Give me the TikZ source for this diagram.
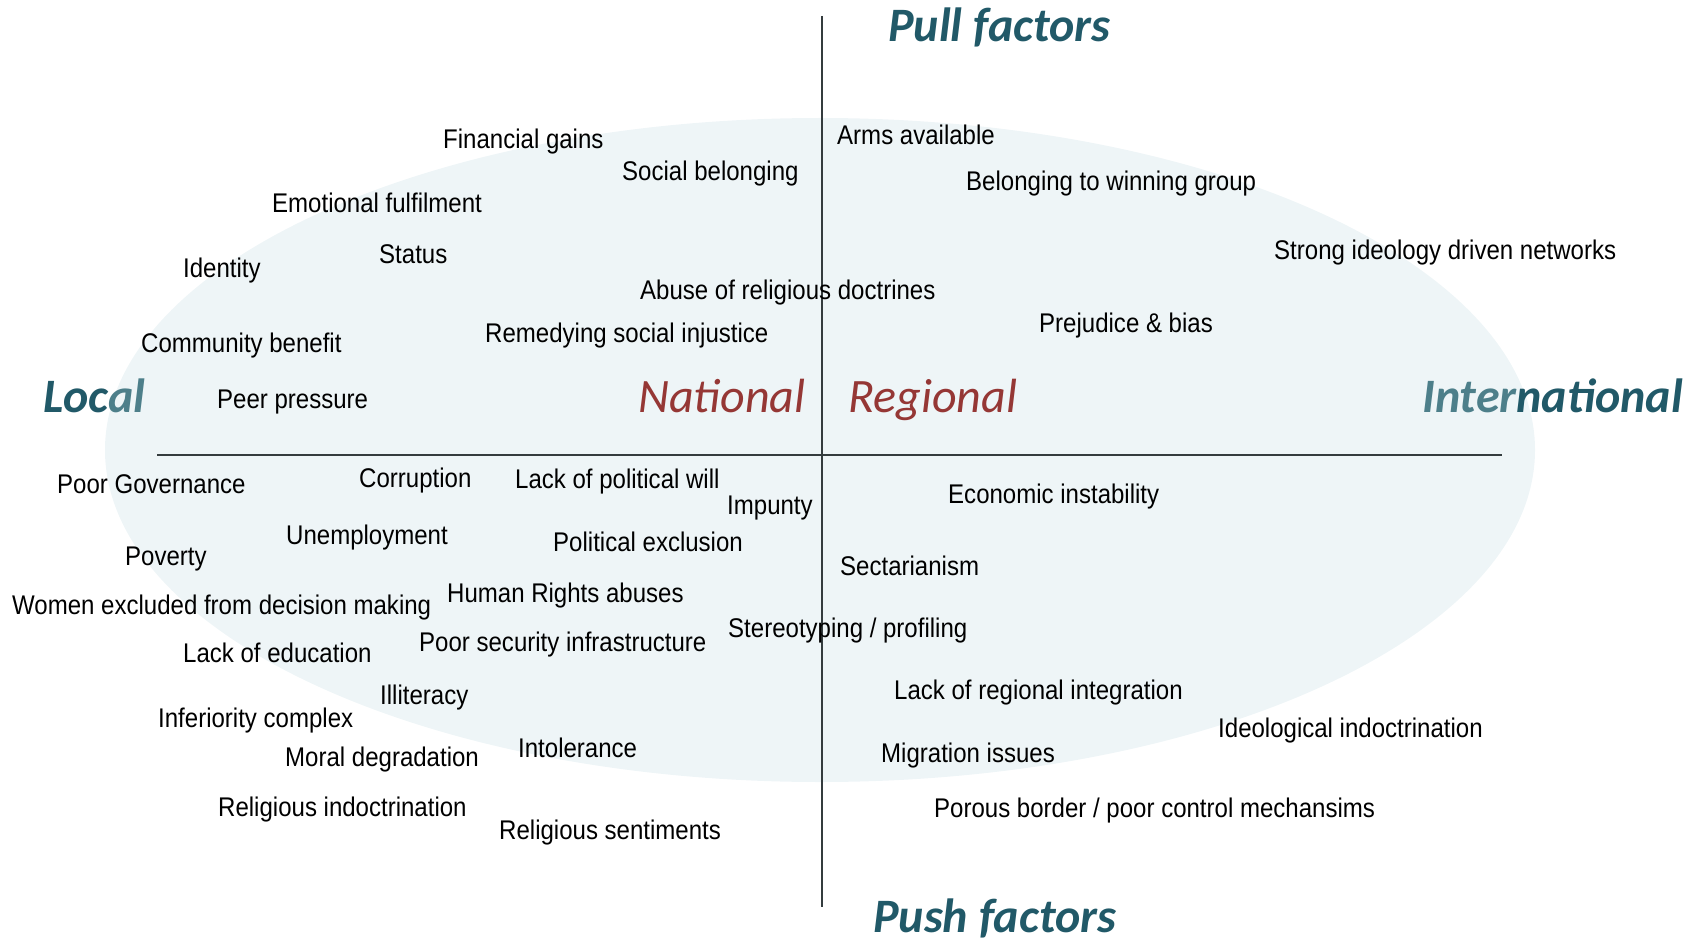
\documentclass[tikz,border=0pt]{standalone}
\usepackage{fontspec}
\setmainfont{Liberation Sans}[FakeStretch=0.89]
\newfontfamily\headfont{Carlito}
\definecolor{tealdark}{HTML}{215968}
\definecolor{teallight}{HTML}{4D7F8A}
\definecolor{headred}{HTML}{953735}
\definecolor{ellfill}{HTML}{EEF5F7}
\definecolor{axisgray}{HTML}{343C3E}
\tikzset{
  lbl/.style={anchor=base west, inner sep=0pt, font=\fontsize{27}{30}\selectfont, text=black},
  headteal/.style={anchor=base west, inner sep=0pt, font=\headfont\bfseries\itshape\fontsize{48}{52}\selectfont, text=tealdark},
  headred/.style={anchor=base west, inner sep=0pt, font=\headfont\itshape\fontsize{48}{52}\selectfont, text=headred},
  axis/.style={draw=axisgray, line width=2pt}
}
\begin{document}
\begin{tikzpicture}[x=1pt,y=-1pt]
\useasboundingbox (0,0) rectangle (1704,941);
\fill[ellfill] (820,450) ellipse [x radius=715, y radius=332];
\coordinate (vtop) at (821.5,16);
\coordinate (vbot) at (821.5,907);
\coordinate (hleft) at (157,455);
\coordinate (hright) at (1502,455);
\draw[axis] (vtop) -- (vbot);
\draw[axis] (hleft) -- (hright);
% headers
\node[headteal] (pull) at (888,42) {Pull factors};
\node[headteal] (push) at (873,932) {Push factors};
\node[headteal] (local) at (43,412) {Loc\textcolor{teallight}{al}};
\node[headteal] (intl) at (1422,412) {\textcolor{teallight}{Inter}national};
\node[headred] (national) at (638,412) {National};
\node[headred] (regional) at (848,412) {Regional};
% top-left
\node[lbl] (t1) at (443,149) {Financial gains};
\node[lbl] (t2) at (622,181) {Social belonging};
\node[lbl] (t3) at (272,213) {Emotional fulfilment};
\node[lbl] (t4) at (183,277) {Identity};
\node[lbl] (t5) at (379,264) {Status};
\node[lbl] (t6) at (640,299) {Abuse of religious doctrines};
\node[lbl] (t7) at (141,352) {Community benefit};
\node[lbl] (t8) at (485,342) {Remedying social injustice};
\node[lbl] (t9) at (217,408) {Peer pressure};
% top-right
\node[lbl] (r1) at (837,145) {Arms available};
\node[lbl] (r2) at (966,191) {Belonging to winning group};
\node[lbl] (r3) at (1274,259) {Strong ideology driven networks};
\node[lbl] (r4) at (1039,332) {Prejudice \& bias};
% bottom-left
\node[lbl] (b1) at (57,493) {Poor Governance};
\node[lbl] (b2) at (359,487) {Corruption};
\node[lbl] (b3) at (515,488) {Lack of political will};
\node[lbl] (b4) at (727,514) {Impunty};
\node[lbl] (b5) at (286,544) {Unemployment};
\node[lbl] (b6) at (553,551) {Political exclusion};
\node[lbl] (b7) at (125,565) {Poverty};
\node[lbl] (b8) at (12,614) {Women excluded from decision making};
\node[lbl] (b9) at (447,602) {Human Rights abuses};
\node[lbl] (b10) at (419,651) {Poor security infrastructure};
\node[lbl] (b11) at (183,662) {Lack of education};
\node[lbl] (b12) at (380,704) {Illiteracy};
\node[lbl] (b13) at (158,727) {Inferiority complex};
\node[lbl] (b14) at (285,766) {Moral degradation};
\node[lbl] (b15) at (518,757) {Intolerance};
\node[lbl] (b16) at (218,816) {Religious indoctrination};
\node[lbl] (b17) at (499,839) {Religious sentiments};
% bottom-right
\node[lbl] (c1) at (948,503) {Economic instability};
\node[lbl] (c2) at (840,575) {Sectarianism};
\node[lbl] (c3) at (728,637) {Stereotyping / profiling};
\node[lbl] (c4) at (894,699) {Lack of regional integration};
\node[lbl] (c5) at (1218,737) {Ideological indoctrination};
\node[lbl] (c6) at (881,762) {Migration issues};
\node[lbl] (c7) at (934,817) {Porous border / poor control mechansims};
\end{tikzpicture}
\end{document}
